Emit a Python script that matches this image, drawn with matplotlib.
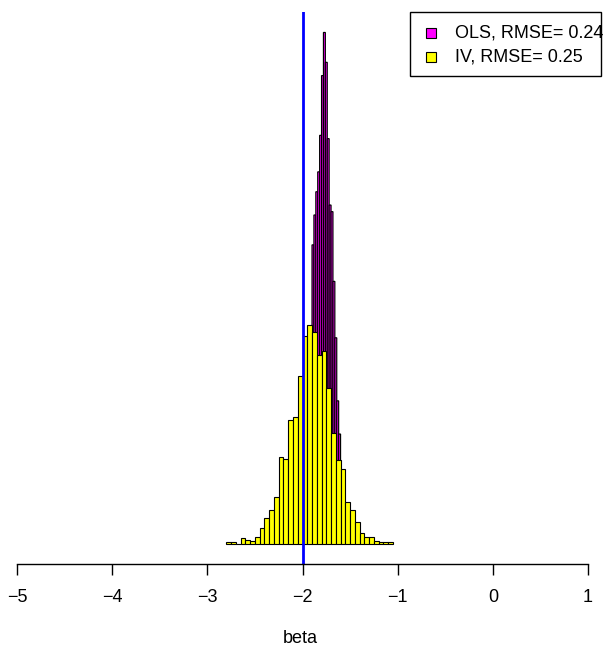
import numpy as np
import matplotlib
matplotlib.use("Agg")
import matplotlib.pyplot as plt
from matplotlib.patches import Rectangle

plt.rcParams['font.family'] = ['Liberation Sans', 'DejaVu Sans']

# IV estimates: histogram counts, bin width 0.05 starting at -2.80
iv_start = -2.80
iv_width = 0.05
iv_counts = [1, 1, 0, 4, 3, 2, 5, 12, 19, 25, 35, 65, 64, 93, 95, 126,
             156, 165, 159, 142, 145, 117, 83, 63, 56, 31, 25, 16, 8, 5,
             5, 2, 1, 1, 1]

# OLS estimates: histogram counts, bin width 0.02 starting at -2.08
ols_start = -2.08
ols_width = 0.02
ols_counts = [1, 1, 3, 6, 11, 19, 30, 44, 60,
              90, 99, 106, 112, 123, 141, 154, 145, 122, 102, 100, 79, 62, 43, 33,
              21, 12, 6, 3, 2, 1]

true_beta = -2
xticks = [-5, -4, -3, -2, -1, 0, 1]
legend_labels = ["OLS, RMSE= 0.24", "IV, RMSE= 0.25"]
colors = ["magenta", "yellow"]

def density(counts, width):
    c = np.asarray(counts, dtype=float)
    return c / c.sum() / width

def edges(start, width, n):
    return start + width * np.arange(n)

W, H = 605, 647
fig = plt.figure(figsize=(W / 100, H / 100), dpi=100)
ax = fig.add_axes([0, (H - 564) / H, 601 / W, (564 - 12) / H])

ols_d = density(ols_counts, ols_width)
iv_d = density(iv_counts, iv_width)

ols_bars = ax.bar(edges(ols_start, ols_width, len(ols_counts)), ols_d, width=ols_width,
                  align='edge', color=colors[0], edgecolor='black', linewidth=0.85)
for p in ols_bars:
    p.set_snap(False)
ax.bar(edges(iv_start, iv_width, len(iv_counts)), iv_d, width=iv_width,
       align='edge', color=colors[1], edgecolor='black', linewidth=0.8)
ax.axvline(true_beta, color='blue', linewidth=2)

M = ols_d.max()
ax.set_ylim(-0.04 * M, 1.04 * M)
px_per_unit = (588 - 17) / 6.0
ax.set_xlim(-5 - 17 / px_per_unit, 1 + 13 / px_per_unit)

for s in ['top', 'right', 'left']:
    ax.spines[s].set_visible(False)
ax.spines['bottom'].set_bounds(-5, 1)
ax.spines['bottom'].set_linewidth(1.0)
ax.set_yticks([])
ax.set_xticks(xticks)
ax.set_xticklabels([f"{t}".replace('-', '\u2212') for t in xticks], fontsize=13)
ax.tick_params(axis='x', length=8, width=1.0, pad=10)
ax.set_xlabel("beta", fontsize=13, labelpad=17)

# R-style legend box (top right of plot region)
def fx(px):
    return px / W

def fy(py):
    return 1 - py / H

fig.patches.append(Rectangle((fx(410), fy(76)), fx(601) - fx(410), fy(12) - fy(76),
                             transform=fig.transFigure, facecolor='white',
                             edgecolor='black', linewidth=1.0, zorder=5))
for i, (lab, c) in enumerate(zip(legend_labels, colors)):
    yc = 33 + 24 * i
    fig.patches.append(Rectangle((fx(426), fy(yc + 5)), fx(436) - fx(426), fy(yc - 5) - fy(yc + 5),
                                 transform=fig.transFigure, facecolor=c,
                                 edgecolor='black', linewidth=0.8, zorder=6))
    fig.text(fx(455), fy(yc), lab, fontsize=13, va='center', ha='left', zorder=7)

fig.savefig("out.png", dpi=100)
